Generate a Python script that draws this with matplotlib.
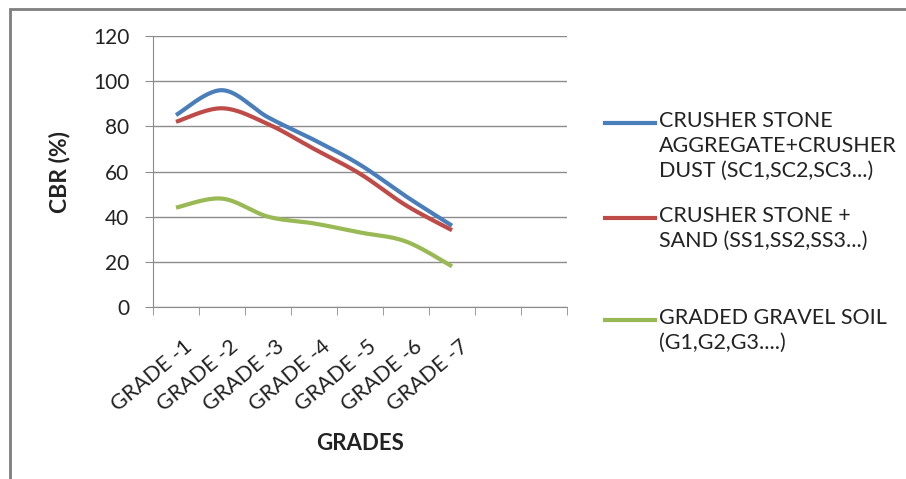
import matplotlib
matplotlib.use("Agg")
import matplotlib.pyplot as plt
import matplotlib.transforms as mtransforms
from matplotlib.lines import Line2D
from matplotlib.patches import Rectangle
import numpy as np

plt.rcParams['font.family'] = ['Lato', 'DejaVu Sans']

grades = ['GRADE -1', 'GRADE -2', 'GRADE -3', 'GRADE -4', 'GRADE -5', 'GRADE -6', 'GRADE -7', '', '']
sc_dust = [85, 96, 84, 74, 63, 49, 36]
ss_sand = [82, 88, 81, 70, 59, 45, 34]
gravel = [44, 48, 40, 37, 33, 29, 18]

series_names = ['CRUSHER STONE\nAGGREGATE+CRUSHER\nDUST (SC1,SC2,SC3...)',
                'CRUSHER STONE +\nSAND (SS1,SS2,SS3...)',
                'GRADED GRAVEL SOIL\n(G1,G2,G3....)']
colors = ['#4A7EBB', '#BE4B48', '#98B954']


def smooth(x, y, n=30):
    # bezier smoothing through the points (office-style smoothed line)
    x = np.asarray(x, float)
    y = np.asarray(y, float)
    px = np.concatenate([[x[0]], x, [x[-1]]])
    py = np.concatenate([[y[0]], y, [y[-1]]])
    xs, ys = [], []
    t = np.linspace(0, 1, n)
    for i in range(1, len(px) - 2):
        p0 = np.array([px[i], py[i]])
        p3 = np.array([px[i + 1], py[i + 1]])
        p1 = p0 + (p3 - np.array([px[i - 1], py[i - 1]])) / 6
        p2 = p3 - (np.array([px[i + 2], py[i + 2]]) - p0) / 6
        b = ((1 - t) ** 3)[:, None] * p0 + (3 * (1 - t) ** 2 * t)[:, None] * p1 \
            + (3 * (1 - t) * t ** 2)[:, None] * p2 + (t ** 3)[:, None] * p3
        xs.append(b[:, 0])
        ys.append(b[:, 1])
    return np.concatenate(xs), np.concatenate(ys)


fig = plt.figure(figsize=(9.06, 4.79), dpi=100)
ax = fig.add_axes([153 / 906, 1 - 307 / 479, (567 - 153) / 906, (307 - 36) / 479])

xpos = np.arange(1, len(sc_dust) + 1)
for vals, c in zip([sc_dust, ss_sand, gravel], colors):
    sx, sy = smooth(xpos, vals)
    ax.plot(sx, sy, color=c, lw=3, solid_capstyle='butt')

grid_c = '#8C8C8C'
txt_c = '#222222'
ax.set_ylim(0, 120)
ax.set_xlim(0.5, len(grades) + 0.5)
ax.set_yticks(range(0, 121, 20))
ax.yaxis.grid(True, color=grid_c, lw=1)
ax.set_axisbelow(True)
for s in ['top', 'right']:
    ax.spines[s].set_visible(False)
for s in ['left', 'bottom']:
    ax.spines[s].set_color(grid_c)
ax.tick_params(axis='y', length=6, color=grid_c, pad=11, labelsize=15, labelcolor=txt_c)

ax.set_xticks(np.arange(0.5, len(grades) + 1, 1), minor=True)
ax.set_xticks(np.arange(1, len(grades) + 1))
ax.set_xticklabels(grades, rotation=40, ha='right', va='top', rotation_mode='anchor',
                   fontsize=15.5, color=txt_c)
ax.tick_params(axis='x', which='major', length=0, pad=21)
ax.tick_params(axis='x', which='minor', length=6, color=grid_c)
offset = mtransforms.ScaledTranslation(7 / 100, 0, fig.dpi_scale_trans)
for lbl in ax.get_xticklabels():
    lbl.set_transform(lbl.get_transform() + offset)

fig.text(60 / 906, 1 - 172 / 479, 'CBR (%)', rotation=90, ha='center', va='center',
         fontsize=16.5, fontweight='bold', color=txt_c)
fig.text(360 / 906, 1 - 444 / 479, 'GRADES', ha='center', va='center',
         fontsize=16, fontweight='bold', color=txt_c)

# legend drawn by hand, handle level with the first text line
legend_y = [123, 218, 320]
for name, c, yy in zip(series_names, colors, legend_y):
    fig.add_artist(Line2D([605 / 906, 655 / 906], [1 - yy / 479] * 2, color=c, lw=3,
                          transform=fig.transFigure))
    fig.text(659 / 906, 1 - (yy - 12) / 479, name, ha='left', va='top', fontsize=15.5,
             color=txt_c, linespacing=1.3)

fig.add_artist(Rectangle((10 / 906, -0.05), 1.0, 1 - 9 / 479 + 0.05, transform=fig.transFigure,
                         fill=False, edgecolor='#7F7F7F', lw=2))

fig.savefig('out.png', dpi=100)
